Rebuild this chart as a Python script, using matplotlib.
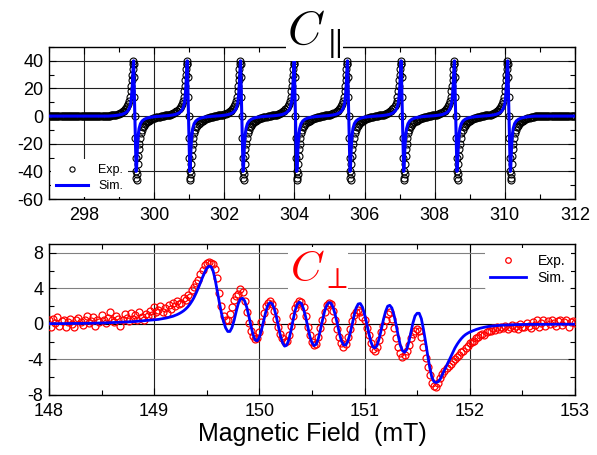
import numpy as np
import matplotlib
matplotlib.use("Agg")
import matplotlib.pyplot as plt
from matplotlib.ticker import MultipleLocator

plt.rcParams['font.family'] = ['Liberation Sans', 'DejaVu Sans']
plt.rcParams['mathtext.fontset'] = 'cm'
plt.rcParams['axes.unicode_minus'] = False

# ---------------------------------------------------------------------------
# Top panel (C parallel): 8 hyperfine lines, same line shape at each centre
# ---------------------------------------------------------------------------
par_centres = [299.45, 300.98, 302.50, 304.03, 305.55, 307.08, 308.60, 310.12]

par_exp_offset = [-0.765, -0.735, -0.705, -0.675, -0.645, -0.615, -0.585, -0.555,
                  -0.525, -0.495, -0.465, -0.435, -0.405, -0.375, -0.345, -0.315,
                  -0.285, -0.255, -0.225, -0.195, -0.165, -0.14, -0.12, -0.105,
                  -0.09, -0.078, -0.066, -0.054, -0.045, -0.036, -0.024, -0.012,
                  0.0, 0.012, 0.024, 0.036, 0.046, 0.056, 0.066, 0.078,
                  0.09, 0.105, 0.12, 0.14, 0.165, 0.195, 0.225, 0.255,
                  0.285, 0.315, 0.345, 0.375, 0.405, 0.435, 0.465, 0.495,
                  0.525, 0.555, 0.585, 0.615, 0.645, 0.675, 0.705, 0.735]
par_exp_signal = [0.3, 0.4, 0.4, 0.5, 0.6, 0.7, 0.8, 0.9,
                  1.1, 1.3, 1.6, 2.0, 2.4, 2.9, 3.4, 4.0,
                  4.8, 5.8, 7.0, 8.6, 11, 14, 18, 22,
                  26, 30, 34, 38, 40, 38, 28, 14,
                  0, -16, -30, -40, -45, -46, -42, -35,
                  -29, -24, -20, -16, -12.5, -10, -8.2, -6.9,
                  -5.9, -5.0, -4.3, -3.7, -3.2, -2.8, -2.4, -2.0,
                  -1.7, -1.4, -1.2, -1.0, -0.8, -0.6, -0.4, -0.2]

# simulated line shape
par_sim_offset = [-0.765, -0.6, -0.45, -0.35, -0.27, -0.21, -0.16, -0.12, -0.095,
                  -0.075, -0.06, -0.048, -0.036, -0.02, 0.0, 0.02, 0.036, 0.048,
                  0.06, 0.075, 0.095, 0.12, 0.16, 0.21, 0.27, 0.35, 0.45, 0.6, 0.735]
par_sim_signal = [0.0, 0.3, 0.8, 1.4, 2.3, 3.5, 5.5, 9, 14,
                  21, 29, 36, 40, 22, -2, -26, -40, -38,
                  -30, -21, -14, -9, -5.5, -3.5, -2.3, -1.4, -0.8, -0.3, 0.0]

par_baseline = 0.3   # flat level outside the lines

# ---------------------------------------------------------------------------
# Bottom panel (C perpendicular), field grid 148.00 .. 153.00 step 0.02 mT
# ---------------------------------------------------------------------------
perp_field = np.round(np.arange(148.0, 153.0001, 0.02), 2)

perp_exp = [
    0.4, -0.3, 0.6, 0.1, 0.8, -0.2, 0.3, 0.5, -0.4, 0.2,
    0.6, 0.0, -0.3, 0.4, 0.7, 0.2, -0.1, 0.5, 0.9, 0.1,
    0.3, 0.8, -0.2, 0.5, 0.2, 1.0, 0.4, 0.1, 0.7, 1.3,
    0.5, 0.2, 0.9, 0.6, -0.2, 0.4, 1.1, 0.7, 0.3, 1.2,
    0.6, 1.0, 0.4, 1.3, 0.8, 0.5, 1.1, 0.9, 1.5, 1.0,
    1.9, 1.3, 1.6, 2.0, 1.4, 1.8, 1.2, 2.1, 1.7, 2.4,
    2.0, 2.6, 2.2, 2.4, 2.9, 2.7, 3.3, 3.0, 3.8, 4.2,
    4.6, 5.0, 5.6, 6.1, 6.6, 6.9, 7.0, 6.9, 6.8, 6.2,
    5.2, 3.5, 2.0, 0.9, 0.4, 0.5, 1.1, 1.9, 2.7, 3.2,
    3.4, 3.9, 3.6, 2.6, 1.4, 0.1, -0.8, -1.4, -1.7, -1.6,
    -0.9, 0.2, 1.2, 2.0, 2.4, 2.6, 2.3, 1.5, 0.6, -0.4,
    -1.1, -1.6, -2.0, -1.9, -1.2, -0.2, 0.9, 1.8, 2.3, 2.6,
    2.5, 1.9, 0.9, -0.3, -1.3, -2.0, -2.4, -2.3, -1.5, -0.5,
    0.5, 1.4, 2.1, 2.4, 2.3, 1.5, 0.5, -0.6, -1.5, -2.2,
    -2.6, -2.3, -1.5, -0.6, 0.3, 1.0, 1.4, 1.6, 1.4, 0.8,
    0.4, -0.5, -1.3, -2.2, -2.8, -3.0, -2.6, -1.8, -0.9, -0.2,
    0.4, 1.1, 1.3, 0.6, -0.5, -1.6, -2.6, -3.3, -3.7, -3.5,
    -3.1, -2.4, -1.6, -1.1, -0.8, -0.6, -0.8, -1.5, -2.6, -3.8,
    -4.8, -5.8, -6.6, -7.0, -7.1, -6.7, -6.1, -5.6, -5.3, -5.0,
    -4.7, -4.5, -4.2, -4.0, -3.7, -3.5, -3.2, -3.0, -2.7, -2.5,
    -2.2, -2.0, -1.9, -1.6, -1.5, -1.3, -1.1, -1.2, -0.9, -0.8,
    -0.8, -0.5, -0.7, -0.4, -0.6, -0.3, -0.5, -0.2, -0.6, -0.3,
    -0.1, -0.5, -0.2, -0.6, 0.0, -0.3, -0.4, 0.1, -0.2, -0.5,
    0.2, -0.1, 0.4, -0.3, 0.1, 0.5, -0.2, 0.3, 0.0, 0.4,
    0.1, -0.2, 0.3, 0.5, -0.1, 0.2, 0.4, -0.3, 0.2, 0.3,
    0.1]

perp_sim = [
    0.03, 0.03, 0.03, 0.03, 0.04, 0.04, 0.04, 0.04, 0.04, 0.05,
    0.05, 0.05, 0.05, 0.06, 0.06, 0.06, 0.07, 0.07, 0.07, 0.08,
    0.08, 0.09, 0.09, 0.10, 0.10, 0.11, 0.11, 0.12, 0.13, 0.13,
    0.14, 0.15, 0.16, 0.17, 0.18, 0.19, 0.20, 0.21, 0.23, 0.24,
    0.26, 0.28, 0.30, 0.32, 0.34, 0.36, 0.38, 0.40, 0.42, 0.44,
    0.45, 0.48, 0.51, 0.55, 0.59, 0.63, 0.68, 0.74, 0.80, 0.87,
    0.96, 1.06, 1.18, 1.32, 1.48, 1.68, 1.92, 2.22, 2.58, 3.00,
    3.5, 4.05, 4.65, 5.25, 5.8, 6.25, 6.5, 6.45, 6.0, 5.0,
    3.7, 2.4, 1.2, 0.25, -0.45, -0.85, -0.85, -0.4, 0.4, 1.4,
    2.3, 2.8, 2.9, 2.6, 1.9, 0.9, -0.2, -1.2, -1.8, -1.9,
    -1.5, -0.7, 0.3, 1.3, 2.1, 2.4, 2.3, 1.8, 0.9, -0.2,
    -1.3, -2.1, -2.5, -2.4, -1.8, -0.8, 0.4, 1.5, 2.2, 2.45,
    2.3, 1.7, 0.8, -0.3, -1.4, -2.1, -2.45, -2.3, -1.7, -0.7,
    0.4, 1.4, 2.1, 2.4, 2.35, 1.9, 1.1, 0.1, -1.0, -1.9,
    -2.35, -2.4, -2.0, -1.2, -0.2, 0.9, 1.8, 2.25, 2.3, 1.9,
    1.1, 0.1, -1.0, -2.0, -2.6, -2.7, -2.4, -1.6, -0.6, 0.5,
    1.4, 2.0, 2.1, 1.8, 1.0, -0.1, -1.3, -2.4, -3.0, -3.2,
    -2.9, -2.1, -1.0, 0.1, 0.9, 1.2, 1.2, 0.6, -0.6, -2.0,
    -3.5, -4.9, -6.0, -6.5, -6.6, -6.5, -6.2, -5.7, -5.2, -4.7,
    -4.2, -3.7, -3.2, -2.7, -2.3, -1.95, -1.65, -1.4, -1.2, -1.05,
    -0.92, -0.82, -0.72, -0.63, -0.55, -0.48, -0.42, -0.37, -0.32, -0.28,
    -0.25, -0.22, -0.2, -0.18, -0.16, -0.14, -0.13, -0.12, -0.11, -0.1,
    -0.09, -0.08, -0.08, -0.07, -0.07, -0.06, -0.06, -0.05, -0.05, -0.05,
    -0.04, -0.04, -0.04, -0.04, -0.04, -0.04, -0.04, -0.04, -0.04, -0.04,
    -0.03, -0.03, -0.03, -0.03, -0.03, -0.03, -0.03, -0.03, -0.03, -0.03,
    -0.03]

# ---------------------------------------------------------------------------
# assemble the top-panel series from the line shape and the line centres
# ---------------------------------------------------------------------------
lead_field = np.arange(297.0, par_centres[0] - 0.78, 0.03)
tail_field = np.arange(par_centres[-1] + 0.765, 312.0, 0.03)

exp_x = [lead_field]
exp_y = [np.full(len(lead_field), par_baseline)]
sim_x = [np.array([297.0])]
sim_y = [np.array([0.0])]
for c in par_centres:
    exp_x.append(c + np.array(par_exp_offset))
    exp_y.append(np.array(par_exp_signal))
    sim_x.append(c + np.array(par_sim_offset))
    sim_y.append(np.array(par_sim_signal))
exp_x.append(tail_field)
exp_y.append(np.full(len(tail_field), 0.0))
sim_x.append(np.array([312.0]))
sim_y.append(np.array([0.0]))
exp_x = np.concatenate(exp_x)
exp_y = np.concatenate(exp_y)
sim_x = np.concatenate(sim_x)
sim_y = np.concatenate(sim_y)

# ---------------------------------------------------------------------------
fig = plt.figure(figsize=(5.97, 4.55), dpi=100)
ax1 = fig.add_axes([0.082, 0.5626, 0.881, 0.3341])
ax2 = fig.add_axes([0.082, 0.1319, 0.881, 0.3318])


def style_axes(ax):
    ax.tick_params(which='both', direction='in', top=True, right=True, labelsize=13)
    ax.tick_params(which='major', length=5, width=0.8)
    ax.tick_params(which='minor', length=3.5, width=0.8)
    ax.tick_params(axis='x', pad=6)
    ax.tick_params(axis='y', pad=4)
    for s in ax.spines.values():
        s.set_linewidth(1.0)


# top panel
ax1.plot(exp_x, exp_y, 'o', mfc='none', mec='black', ms=5, mew=0.8, label='Exp.', zorder=3)
ax1.plot(sim_x, sim_y, '-', color='#0000ff', lw=2.2, label='Sim.', zorder=4)
ax1.set_xlim(297, 312)
ax1.set_ylim(-60, 50)
ax1.xaxis.set_major_locator(MultipleLocator(2))
ax1.xaxis.set_minor_locator(MultipleLocator(1))
ax1.yaxis.set_major_locator(MultipleLocator(20))
ax1.yaxis.set_minor_locator(MultipleLocator(10))
ax1.set_xticks([298, 300, 302, 304, 306, 308, 310, 312])
ax1.set_yticks([-60, -40, -20, 0, 20, 40])
ax1.grid(True, which='major', color='#202020', lw=0.8, zorder=1)
ax1.set_axisbelow(True)
style_axes(ax1)
leg1 = ax1.legend(loc='lower left', fontsize=9, frameon=True, framealpha=1,
                  edgecolor='none', markerscale=0.75, handlelength=2.6,
                  borderaxespad=0.15, labelspacing=0.3, handletextpad=0.8)
leg1.set_zorder(5)

fig.text(0.527, 0.925, r'$C_{\parallel}$', fontsize=34, ha='center', va='center',
         bbox=dict(facecolor='white', edgecolor='none', pad=1))

# bottom panel
ax2.plot(perp_field, perp_exp, 'o', mfc='none', mec='red', ms=5, mew=0.9, label='Exp.', zorder=3)
ax2.plot(perp_field, perp_sim, '-', color='#0000ff', lw=2.0, label='Sim.', zorder=4)
ax2.set_xlim(148, 153)
ax2.set_ylim(-8, 9)
ax2.xaxis.set_major_locator(MultipleLocator(1))
ax2.xaxis.set_minor_locator(MultipleLocator(0.5))
ax2.set_yticks([-8, -4, 0, 4, 8])
ax2.yaxis.set_minor_locator(MultipleLocator(2))
ax2.xaxis.grid(True, which='major', color='#202020', lw=0.8)
ax2.yaxis.grid(True, which='major', color='#808080', lw=0.8)
ax2.axhline(0, color='black', lw=0.8, zorder=1)
ax2.set_axisbelow(True)
style_axes(ax2)
ax2.set_xlabel('Magnetic Field  (mT)', fontsize=18, labelpad=1)
leg2 = ax2.legend(loc='upper right', fontsize=10, frameon=True, framealpha=1,
                  edgecolor='none', markerscale=0.8, handlelength=2.6,
                  borderaxespad=0.3, labelspacing=0.2, handletextpad=0.8)
leg2.set_zorder(5)

ax2.text(0.512, 0.83, r'$C_{\perp}$', transform=ax2.transAxes, fontsize=31,
         color='red', ha='center', va='center', zorder=6,
         bbox=dict(facecolor='white', edgecolor='none', pad=1))

fig.savefig('out.png', dpi=100)
